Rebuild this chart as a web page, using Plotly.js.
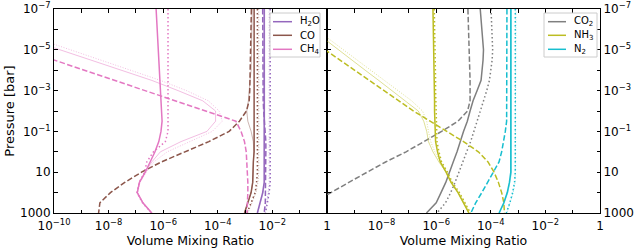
<!DOCTYPE html>
<html><head><meta charset="utf-8">
<script src="https://cdn.plot.ly/plotly-3.0.1.min.js"></script>
<style>html,body{margin:0;padding:0;background:#fff}#chart{width:639px;height:250px}</style>
</head><body><div id="chart"></div>
<script>
// Pressure grid [bar]
const P = [1e-7, 1e-6, 1e-5, 3.16e-5, 1e-4, 3.16e-4, 1e-3, 3.16e-3, 1e-2, 3.16e-2, 0.1, 0.316, 1, 3.16, 10, 31.6, 100, 316, 1000];

// Left panel species
const H2O_solid = [5.0e-3,5.0e-3,5.0e-3,5.0e-3,5.0e-3,5.0e-3,5.0e-3,5.0e-3,5.0e-3,5.0e-3,5.0e-3,5.0e-3,5.0e-3,5.0e-3,5.0e-3,5.0e-3,4.4e-3,3.5e-3,2.8e-3];
const H2O_dashed = [4.4e-3,4.4e-3,4.4e-3,4.4e-3,4.4e-3,4.4e-3,4.4e-3,4.6e-3,4.8e-3,5.2e-3,5.5e-3,5.75e-3,5.75e-3,5.75e-3,5.75e-3,5.75e-3,5.75e-3,5.5e-3,5.0e-3];
const H2O_dotted = [8.3e-3,8.3e-3,8.3e-3,8.3e-3,8.3e-3,8.3e-3,8.3e-3,8.3e-3,8.3e-3,8.3e-3,8.3e-3,8.3e-3,8.3e-3,8.3e-3,8.3e-3,8.3e-3,7.6e-3,6.6e-3,5.6e-3];
const H2O_thin = [5.2e-3,5.2e-3,5.2e-3,5.2e-3,5.2e-3,5.2e-3,5.2e-3,5.2e-3,5.2e-3,5.2e-3,5.2e-3,5.2e-3,5.2e-3,5.2e-3,5.2e-3,5.2e-3,4.6e-3,3.7e-3,2.9e-3];
const H2O_thinDot = [7.6e-3,7.6e-3,7.6e-3,7.6e-3,7.6e-3,7.6e-3,7.6e-3,7.6e-3,7.6e-3,7.6e-3,7.6e-3,7.6e-3,7.6e-3,7.6e-3,7.6e-3,7.6e-3,7.0e-3,6.2e-3,5.3e-3];

const CO_solid = [2.14e-3,2.14e-3,2.14e-3,2.14e-3,2.14e-3,2.14e-3,2.14e-3,2.14e-3,2.14e-3,2.14e-3,2.14e-3,2.14e-3,2.14e-3,2.0e-3,1.95e-3,1.9e-3,1.66e-3,1.29e-3,9.5e-4];
const CO_dashed = [1.7e-3,1.66e-3,1.62e-3,1.58e-3,1.55e-3,1.51e-3,1.48e-3,1.41e-3,1.12e-3,6.2e-4,2.6e-4,4.7e-5,6.3e-6,8.5e-7,1.6e-7,3.9e-8,1.17e-8,4.8e-9,4.3e-9];
const CO_dotted = [2.82e-3,2.82e-3,2.82e-3,2.82e-3,2.82e-3,2.82e-3,2.82e-3,2.82e-3,2.82e-3,2.82e-3,2.82e-3,2.82e-3,2.82e-3,2.82e-3,2.82e-3,2.63e-3,2.34e-3,1.66e-3,1.17e-3];
const CO_thin = [1.82e-3,1.78e-3,1.74e-3,1.70e-3,1.66e-3,1.51e-3,1.41e-3,1.32e-3,1.15e-3,1.26e-3,1.66e-3,2.0e-3,2.09e-3,2.0e-3,1.95e-3,1.9e-3,1.66e-3,1.29e-3,9.5e-4];
const CO_thinDot = [3.16e-3,3.16e-3,3.16e-3,3.16e-3,3.16e-3,3.16e-3,3.16e-3,3.16e-3,3.16e-3,3.16e-3,3.16e-3,3.16e-3,3.16e-3,3.16e-3,3.16e-3,2.95e-3,2.5e-3,1.78e-3,1.26e-3];

const CH4_solid = [5.5e-7,6.0e-7,6.6e-7,6.9e-7,7.1e-7,7.4e-7,7.9e-7,8.5e-7,8.9e-7,9.1e-7,8.3e-7,6.9e-7,5.0e-7,3.4e-7,2.2e-7,1.35e-7,1.12e-7,1.8e-7,3.8e-7];
const CH4_dashed = [2.8e-16,4.7e-14,7.8e-12,1.0e-10,1.3e-9,1.66e-8,2.1e-7,2.75e-6,3.5e-5,4.6e-4,7.1e-4,9.5e-4,1.1e-3,1.17e-3,1.26e-3,1.26e-3,1.26e-3,1.23e-3,1.17e-3];
const CH4_dotted = [1.5e-6,1.5e-6,1.5e-6,1.5e-6,1.5e-6,1.5e-6,1.5e-6,1.5e-6,1.5e-6,1.5e-6,1.5e-6,1.2e-6,4.4e-7,2.5e-7,2.1e-7,1.32e-7,1.1e-7,1.75e-7,3.7e-7];
const CH4_thin = [5.0e-15,1.0e-12,1.66e-10,2.2e-9,2.8e-8,3.8e-7,3.5e-6,2.8e-5,8.3e-5,8.3e-5,4.0e-5,4.5e-6,7.9e-7,3.8e-7,2.2e-7,1.35e-7,1.12e-7,1.8e-7,3.8e-7];
const CH4_thinDot = [1.26e-14,2.5e-12,4.0e-10,5.0e-9,6.3e-8,7.9e-7,7.1e-6,4.5e-5,1.12e-4,1.45e-4,6.3e-5,1.0e-5,1.41e-6,4.5e-7,2.4e-7,1.41e-7,1.17e-7,1.86e-7,4.0e-7];

// Right panel species
const CO2_solid = [4.1e-5,4.8e-5,5.4e-5,5.2e-5,4.9e-5,4.4e-5,3.16e-5,2.24e-5,1.74e-5,1.38e-5,1.0e-5,7.8e-6,5.8e-6,4.2e-6,3.16e-6,2.24e-6,1.5e-6,1.0e-6,4.4e-7];
const CO2_dashed = [1.45e-5,1.55e-5,1.66e-5,1.7e-5,1.7e-5,1.74e-5,1.74e-5,1.74e-5,1.41e-5,6.3e-6,1.58e-6,3.5e-7,7.9e-8,1.4e-8,2.8e-9,6.3e-10,1.4e-10,3.2e-11,6.3e-12];
const CO2_dotted = [1.02e-4,1.12e-4,1.17e-4,1.12e-4,1.02e-4,8.9e-5,7.1e-5,5.5e-5,4.2e-5,3.16e-5,2.4e-5,1.82e-5,1.32e-5,9.3e-6,6.8e-6,4.9e-6,3.4e-6,2.2e-6,1.07e-6];

const NH3_solid = [7.6e-7,7.9e-7,8.3e-7,8.3e-7,8.5e-7,8.5e-7,8.5e-7,8.7e-7,8.7e-7,8.9e-7,9.1e-7,9.5e-7,1.12e-6,1.41e-6,2.3e-6,3.5e-6,6.3e-6,1.0e-5,1.58e-5];
const NH3_dashed = [5.9e-13,7.1e-12,8.5e-11,3.0e-10,1.02e-9,3.5e-9,1.23e-8,4.3e-8,1.48e-7,6.0e-7,2.4e-6,1.0e-5,3.5e-5,7.9e-5,1.32e-4,1.9e-4,2.5e-4,3.0e-4,3.16e-4];
const NH3_dotted = [8.5e-7,8.9e-7,9.3e-7,9.3e-7,9.5e-7,9.5e-7,9.5e-7,9.8e-7,9.8e-7,1.0e-6,1.02e-6,1.07e-6,1.26e-6,1.58e-6,2.6e-6,3.9e-6,7.1e-6,1.12e-5,1.8e-5];
const NH3_thin = [3.0e-12,2.75e-11,2.6e-10,8.1e-10,2.5e-9,7.8e-9,2.3e-8,7.2e-8,2.2e-7,3.5e-7,4.5e-7,5.2e-7,7.6e-7,1.26e-6,2.3e-6,3.5e-6,6.3e-6,1.0e-5,1.58e-5];
const NH3_thinDot = [4.0e-12,4.0e-11,4.0e-10,1.26e-9,4.0e-9,1.26e-8,4.0e-8,1.26e-7,3.16e-7,4.5e-7,5.2e-7,6.3e-7,8.9e-7,1.41e-6,2.5e-6,3.8e-6,6.8e-6,1.07e-5,1.78e-5];

const N2_solid = [5.4e-4,5.4e-4,5.4e-4,5.4e-4,5.4e-4,5.4e-4,5.4e-4,5.4e-4,5.4e-4,5.4e-4,5.4e-4,5.4e-4,5.4e-4,5.4e-4,5.4e-4,4.8e-4,4.0e-4,3.0e-4,2.0e-4];
const N2_dashed = [3.9e-4,3.9e-4,3.9e-4,3.9e-4,3.9e-4,3.9e-4,3.9e-4,3.9e-4,3.9e-4,3.8e-4,3.4e-4,3.0e-4,2.5e-4,2.0e-4,1.26e-4,7.6e-5,4.7e-5,2.8e-5,1.86e-5];
const N2_dotted = [7.9e-4,7.9e-4,7.9e-4,7.9e-4,7.9e-4,7.9e-4,7.9e-4,7.9e-4,7.9e-4,7.9e-4,7.9e-4,7.9e-4,7.9e-4,7.9e-4,7.9e-4,7.4e-4,6.3e-4,5.0e-4,3.7e-4];
const N2_thin = [5.7e-4,5.7e-4,5.7e-4,5.7e-4,5.7e-4,5.7e-4,5.7e-4,5.7e-4,5.7e-4,5.7e-4,5.7e-4,5.7e-4,5.7e-4,5.7e-4,5.7e-4,5.0e-4,4.2e-4,3.1e-4,2.1e-4];
const N2_thinDot = [8.3e-4,8.3e-4,8.3e-4,8.3e-4,8.3e-4,8.3e-4,8.3e-4,8.3e-4,8.3e-4,8.3e-4,8.3e-4,8.3e-4,8.3e-4,8.3e-4,8.3e-4,7.8e-4,6.6e-4,5.2e-4,3.9e-4];

// Legend labels and ticks
const leftNames = ['H<sub>2</sub>O', 'CO', 'CH<sub>4</sub>'];
const rightNames = ['CO<sub>2</sub>', 'NH<sub>3</sub>', 'N<sub>2</sub>'];
const xTickValsL = [1e-10,1e-8,1e-6,1e-4,1e-2,1];
const xTickTextL = ['10<sup>−10</sup>','10<sup>−8</sup>','10<sup>−6</sup>','10<sup>−4</sup>','10<sup>−2</sup>','1'];
const xTickValsR = [1e-8,1e-6,1e-4,1e-2,1];
const xTickTextR = ['10<sup>−8</sup>','10<sup>−6</sup>','10<sup>−4</sup>','10<sup>−2</sup>','1'];
const xMinorVals = [1e-10,1e-9,1e-8,1e-7,1e-6,1e-5,1e-4,1e-3,1e-2,1e-1,1];
const yTickVals = [1e-7,1e-5,1e-3,1e-1,10,1000];
const yTickText = ['10<sup>−7</sup>','10<sup>−5</sup>','10<sup>−3</sup>','10<sup>−1</sup>','10','1000'];
const yMinorVals = [1e-7,1e-6,1e-5,1e-4,1e-3,1e-2,1e-1,1,10,100,1000];

const C = {purple:'#9467bd', brown:'#8c564b', pink:'#e377c2', gray:'#7f7f7f', olive:'#bcbd22', cyan:'#17becf'};
const thinA = {purple:'rgba(148,103,189,0.55)', brown:'rgba(140,86,75,0.55)', pink:'rgba(227,119,194,0.6)', olive:'rgba(188,189,34,0.6)', cyan:'rgba(23,190,207,0.55)'};
const DASH = '5.5px,2.4px', DOT = '1.5px,2.5px', TDOT = '1px,1.6px';

const traces = [];
function add(x, color, width, dash, xa, ya) {
  traces.push({x: x, y: P, type: 'scatter', mode: 'lines', xaxis: xa, yaxis: ya, showlegend: false,
    hoverinfo: 'skip', line: {color: color, width: width, dash: dash}});
}
// left panel
[[H2O_thin,H2O_thinDot,H2O_solid,H2O_dashed,H2O_dotted,'purple'],
 [CO_thin,CO_thinDot,CO_solid,CO_dashed,CO_dotted,'brown'],
 [CH4_thin,CH4_thinDot,CH4_solid,CH4_dashed,CH4_dotted,'pink']].forEach(s => {
  add(s[0], thinA[s[5]], 0.8, 'solid', 'x', 'y');
  add(s[1], thinA[s[5]], 0.8, TDOT, 'x', 'y');
  add(s[2], C[s[5]], 1.5, 'solid', 'x', 'y');
  add(s[3], C[s[5]], 1.5, DASH, 'x', 'y');
  add(s[4], C[s[5]], 1.5, DOT, 'x', 'y');
});
// right panel
add(CO2_solid, C.gray, 1.5, 'solid', 'x2', 'y2');
add(CO2_dashed, C.gray, 1.5, DASH, 'x2', 'y2');
add(CO2_dotted, C.gray, 1.5, DOT, 'x2', 'y2');
[[NH3_thin,NH3_thinDot,NH3_solid,NH3_dashed,NH3_dotted,'olive'],
 [N2_thin,N2_thinDot,N2_solid,N2_dashed,N2_dotted,'cyan']].forEach(s => {
  add(s[0], thinA[s[5]], 0.8, 'solid', 'x2', 'y2');
  add(s[1], thinA[s[5]], 0.8, TDOT, 'x2', 'y2');
  add(s[2], C[s[5]], 1.5, 'solid', 'x2', 'y2');
  add(s[3], C[s[5]], 1.5, DASH, 'x2', 'y2');
  add(s[4], C[s[5]], 1.5, DOT, 'x2', 'y2');
});

const FONT = 'DejaVu Sans, sans-serif';
const axBase = {type: 'log', showgrid: false, zeroline: false, showline: true, linecolor: '#000', linewidth: 1,
  ticks: 'inside', ticklen: 3.5, tickwidth: 1, tickcolor: '#000', mirror: 'ticks',
  tickfont: {family: FONT, size: 12, color: '#000'}};
const minorX = {tickmode: 'array', tickvals: xMinorVals, ticks: 'inside', ticklen: 3.5, tickwidth: 1, tickcolor: '#000', showgrid: false};
const minorY = {tickmode: 'array', tickvals: yMinorVals, ticks: 'inside', ticklen: 3.5, tickwidth: 1, tickcolor: '#000', showgrid: false};

const W = 546, H = 204, L = 54, T = 9;
const px = v => (v - L) / W, py = v => 1 - (v - T) / H;

const shapes = [], annotations = [];
function legend(box, x0, x1, xt, rows, names, colors) {
  shapes.push({type: 'rect', xref: 'paper', yref: 'paper', x0: px(box[0]), x1: px(box[1]), y0: py(box[3]), y1: py(box[2]),
    line: {color: '#cccccc', width: 1}, fillcolor: 'rgba(255,255,255,0.85)', layer: 'above'});
  names.forEach((n, i) => {
    shapes.push({type: 'line', xref: 'paper', yref: 'paper', x0: px(x0), x1: px(x1), y0: py(rows[i]), y1: py(rows[i]),
      line: {color: colors[i], width: 1.5}, layer: 'above'});
    annotations.push({xref: 'paper', yref: 'paper', x: px(xt), y: py(rows[i]), xanchor: 'left', yanchor: 'middle',
      text: n, showarrow: false, font: {family: FONT, size: 10, color: '#000'}});
  });
}
legend([270, 320, 13, 57], 273, 292, 298, [21.7, 35.3, 49.3], leftNames, [C.purple, C.brown, C.pink]);
legend([544, 597, 13, 57], 548, 566, 572, [21.7, 35.3, 49.3], rightNames, [C.gray, C.olive, C.cyan]);

const layout = {
  width: 639, height: 250, margin: {l: 54, r: 39, t: 9, b: 37},
  paper_bgcolor: '#fff', plot_bgcolor: '#fff', showlegend: false,
  font: {family: FONT, color: '#000'},
  xaxis: Object.assign({}, axBase, {domain: [0, 0.5], anchor: 'y', range: [-10, 0], tickvals: xTickValsL, ticktext: xTickTextL,
    minor: minorX, ticklabelstandoff: 2, title: {text: 'Volume Mixing Ratio', font: {family: FONT, size: 12.5}, standoff: 1}}),
  xaxis2: Object.assign({}, axBase, {domain: [0.5, 1], anchor: 'y2', range: [-10, 0], tickvals: xTickValsR, ticktext: xTickTextR,
    minor: minorX, ticklabelstandoff: 2, title: {text: 'Volume Mixing Ratio', font: {family: FONT, size: 12.5}, standoff: 1}}),
  yaxis: Object.assign({}, axBase, {anchor: 'x', range: [3, -7], tickvals: yTickVals, ticktext: yTickText, minor: minorY,
    title: {text: 'Pressure [bar]', font: {family: FONT, size: 13}, standoff: 2}}),
  yaxis2: Object.assign({}, axBase, {anchor: 'x2', side: 'right', range: [3, -7], tickvals: yTickVals, ticktext: yTickText, minor: minorY}),
  shapes: shapes, annotations: annotations
};

Plotly.newPlot('chart', traces, layout, {staticPlot: true, displayModeBar: false});
</script></body></html>
